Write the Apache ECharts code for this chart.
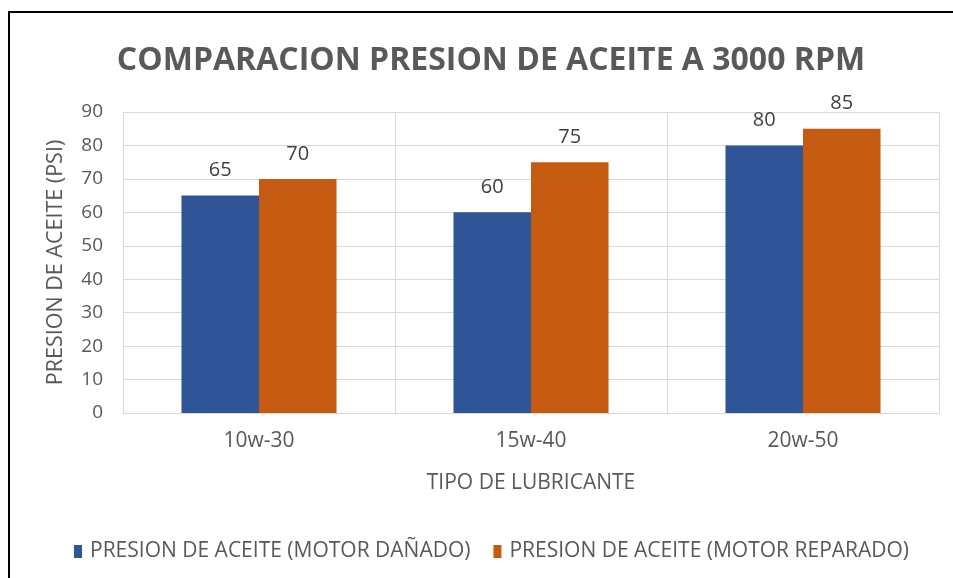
<!DOCTYPE html>
<html><head><meta charset="utf-8">
<script src="https://cdn.jsdelivr.net/npm/echarts@6/dist/echarts.min.js"></script>
<style>html,body{margin:0;padding:0;background:#fff}#c{width:953px;height:578px}</style>
</head><body><div id="c"></div>
<script>
const categories = ['10w-30', '15w-40', '20w-50'];
const danado = [65, 60, 80];
const reparado = [70, 75, 85];
const yTicks = [0, 10, 20, 30, 40, 50, 60, 70, 80, 90];

const FONT = '"Open Sans", sans-serif';
const chart = echarts.init(document.getElementById('c'), null, {renderer: 'canvas'});
const lbl = {show: true, position: 'top', color: '#404040', fontSize: 20, fontFamily: FONT, distance: 15};
chart.setOption({
  animation: false,
  textStyle: {fontFamily: FONT},
  graphic: [{type: 'rect', shape: {x: 9, y: 12, width: 1000, height: 700}, style: {fill: 'none', stroke: '#000', lineWidth: 2}}],
  title: {text: 'COMPARACION PRESION DE ACEITE A 3000 RPM', left: 486, top: 40, textAlign: 'center',
    textStyle: {fontSize: 32, fontWeight: 'bold', color: '#595959', fontFamily: FONT}},
  grid: {left: 123, right: 14, top: 112, bottom: 165, containLabel: false},
  legend: {bottom: 11, left: 69, itemWidth: 8, itemHeight: 13, itemGap: 23, icon: 'rect',
    textStyle: {fontSize: 21, color: '#595959', fontFamily: FONT, padding: [0, 0, 0, 3]},
    data: ['PRESION DE ACEITE (MOTOR DAÑADO)', 'PRESION DE ACEITE (MOTOR REPARADO)']},
  xAxis: {type: 'category', data: categories,
    axisLine: {lineStyle: {color: '#d9d9d9'}}, axisTick: {show: false},
    splitLine: {show: true, lineStyle: {color: '#d9d9d9'}},
    axisLabel: {fontSize: 21, color: '#595959', margin: 18, fontFamily: FONT},
    name: 'TIPO DE LUBRICANTE', nameLocation: 'middle', nameGap: 60,
    nameTextStyle: {fontSize: 21, color: '#595959', fontFamily: FONT}},
  yAxis: {type: 'value', min: yTicks[0], max: yTicks[yTicks.length - 1], interval: 10,
    axisLine: {show: false}, axisTick: {show: false},
    splitLine: {lineStyle: {color: '#d9d9d9'}},
    axisLabel: {fontSize: 19, color: '#595959', margin: 20, fontFamily: FONT},
    name: 'PRESION DE ACEITE (PSI)', nameLocation: 'middle', nameGap: 56,
    nameTextStyle: {fontSize: 21.5, color: '#595959', fontFamily: FONT}},
  series: [
    {name: 'PRESION DE ACEITE (MOTOR DAÑADO)', type: 'bar', data: danado, barGap: '0%', barCategoryGap: '43%',
     itemStyle: {color: '#2F5597'}, label: lbl},
    {name: 'PRESION DE ACEITE (MOTOR REPARADO)', type: 'bar', data: reparado,
     itemStyle: {color: '#C55A11'}, label: lbl}
  ]
});
</script></body></html>
